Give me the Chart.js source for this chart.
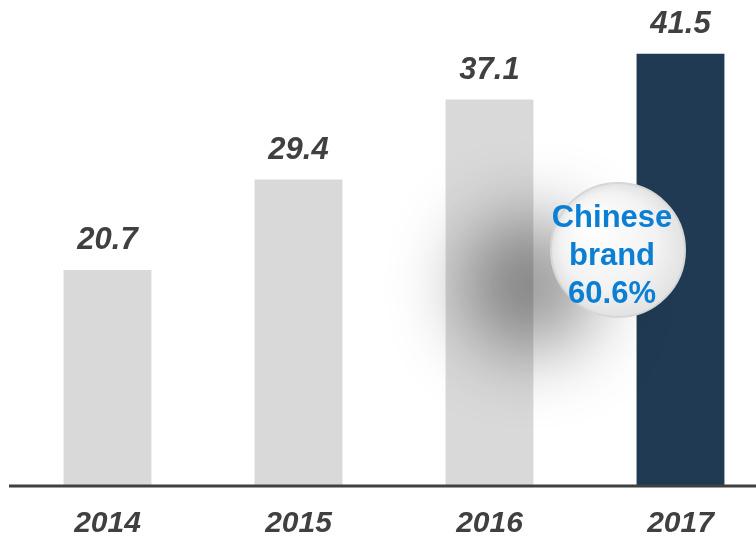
<!DOCTYPE html>
<html>
<head>
<meta charset="utf-8">
<script src="https://cdn.jsdelivr.net/npm/chart.js@4/dist/chart.umd.min.js"></script>
<style>
html,body{margin:0;padding:0;background:#fff;overflow:hidden;}
#wrap{position:relative;width:776px;height:537px;}
</style>
</head>
<body>
<div id="wrap"><canvas id="c"></canvas></div>
<script>
const years = ['2014', '2015', '2016', '2017'];
const sales = [20.7, 29.4, 37.1, 41.5];
const barColors = ['#d9d9d9', '#d9d9d9', '#d9d9d9', '#1f3a52'];
const calloutLines = ['Chinese', 'brand', '60.6%'];

const valueLabels = {
  id: 'valueLabels',
  afterDatasetsDraw(chart) {
    const ctx = chart.ctx;
    const meta = chart.getDatasetMeta(0);
    ctx.save();
    ctx.font = 'italic bold 31px "Liberation Sans", Arial, sans-serif';
    ctx.fillStyle = '#404040';
    ctx.textAlign = 'center';
    ctx.textBaseline = 'middle';
    meta.data.forEach((bar, i) => {
      ctx.fillText(sales[i].toFixed(1), bar.x, bar.y - 29);
    });
    ctx.strokeStyle = '#404040';
    ctx.lineWidth = 3;
    ctx.beginPath();
    ctx.moveTo(9, chart.chartArea.bottom + 1);
    ctx.lineTo(chart.width, chart.chartArea.bottom + 1);
    ctx.stroke();
    ctx.restore();
  }
};

const callout = {
  id: 'callout',
  afterDraw(chart) {
    const ctx = chart.ctx;
    const cx = 618, cy = 250, r = 67;
    ctx.save();
    ctx.shadowColor = 'rgba(0,0,0,0.42)';
    ctx.shadowBlur = 75;
    ctx.shadowOffsetX = -88;
    ctx.shadowOffsetY = 35;
    ctx.fillStyle = '#ffffff';
    ctx.beginPath();
    ctx.arc(cx, cy, r, 0, Math.PI * 2);
    ctx.fill();
    ctx.restore();
    ctx.save();
    const g = ctx.createRadialGradient(cx - 30, cy - 30, 5, cx, cy, r);
    g.addColorStop(0, '#ffffff');
    g.addColorStop(0.7, '#f2f2f2');
    g.addColorStop(1, '#e2e2e2');
    ctx.fillStyle = g;
    ctx.beginPath();
    ctx.arc(cx, cy, r, 0, Math.PI * 2);
    ctx.fill();
    ctx.strokeStyle = '#d6d6d6';
    ctx.lineWidth = 2;
    ctx.stroke();
    ctx.font = 'bold 31px "Liberation Sans", Arial, sans-serif';
    ctx.fillStyle = '#0b7fd3';
    ctx.textAlign = 'center';
    ctx.textBaseline = 'middle';
    calloutLines.forEach((t, i) => ctx.fillText(t, 612, 218 + i * 38));
    ctx.restore();
  }
};

new Chart(document.getElementById('c'), {
  type: 'bar',
  data: {
    labels: years,
    datasets: [{
      data: sales,
      backgroundColor: barColors,
      borderWidth: 0,
      categoryPercentage: 1,
      barPercentage: 0.46
    }]
  },
  options: {
    responsive: true,
    maintainAspectRatio: false,
    animation: false,
    events: [],
    layout: { padding: { left: 12, right: 0, top: 7, bottom: 0 } },
    plugins: { legend: { display: false }, tooltip: { enabled: false } },
    scales: {
      y: { display: false, min: 0, max: 46 },
      x: {
        grid: { display: false, drawTicks: false },
        border: { display: false },
        ticks: {
          padding: 21,
          color: '#404040',
          font: { family: '"Liberation Sans", Arial, sans-serif', size: 30, weight: 'bold', style: 'italic' }
        },
        afterFit(scale) { scale.height = 52; }
      }
    }
  },
  plugins: [valueLabels, callout]
});
</script>
</body>
</html>
